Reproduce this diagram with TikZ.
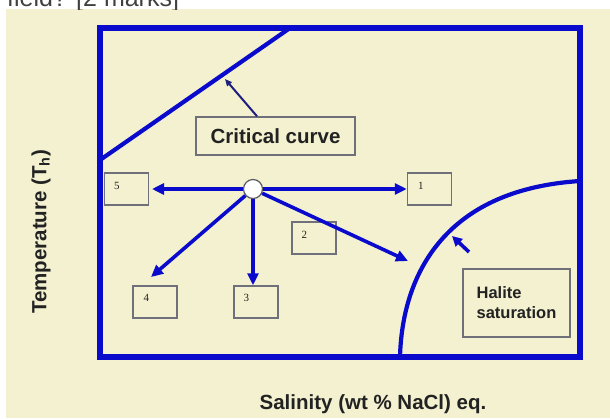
\documentclass[tikz,border=0pt]{standalone}
\usepackage{fontspec}
\setmainfont{Liberation Sans}
\newfontfamily\numfont{Liberation Serif}
\usetikzlibrary{arrows.meta,calc}
\definecolor{bgbeige}{RGB}{243,241,208}
\definecolor{mainblue}{RGB}{10,10,205}
\definecolor{navy}{RGB}{30,30,125}
\definecolor{boxgray}{RGB}{112,112,122}
\definecolor{txtdark}{RGB}{34,34,34}
\tikzset{
  frame/.style={draw=mainblue,line width=5.5pt},
  curveline/.style={draw=mainblue,line width=4.2pt},
  bluearrow/.style={draw=mainblue,line width=3.6pt,-{Triangle[length=12pt,width=11pt]}},
  pointer/.style={draw=navy,line width=2pt,-{Triangle[length=7pt,width=6pt]}},
  numbox/.style={draw=boxgray,line width=1.5pt,minimum width=44pt,minimum height=32pt,inner sep=0pt},
  labbox/.style={draw=boxgray,line width=1.5pt,inner sep=0pt,text=txtdark,font=\bfseries},
  numtxt/.style={font=\numfont\fontsize{11}{13}\selectfont,text=txtdark,inner sep=0pt},
  axislab/.style={font=\bfseries\fontsize{20.5}{24}\selectfont,text=txtdark,inner sep=0pt},
  centre/.style={circle,draw=boxgray!80!black,fill=white,line width=1.2pt,minimum size=19pt,inner sep=0pt}
}
\begin{document}
\begin{tikzpicture}[x=1pt,y=-1pt]
\useasboundingbox (0,0) rectangle (610,418);
\fill[white] (0,0) rectangle (610,418);
\fill[bgbeige] (6,9) rectangle (610,418);
\begin{scope}
\clip (0,0) rectangle (610,9);
\node[anchor=base west,inner sep=0pt,text=black!75,font=\fontsize{25}{30}\selectfont] (q) at (7,6) {field? [2 marks]};
\end{scope}
% frame
\node[frame,minimum width=480pt,minimum height=329pt,inner sep=0pt] (fr) at (340,192.5) {};
% critical curve
\coordinate (cc1) at (100,160);
\coordinate (cc2) at (290,28);
\draw[curveline] (cc1) -- (cc2);
\node[labbox,minimum width=159pt,minimum height=38pt,font=\bfseries\fontsize{20.5}{24}\selectfont] (crit) at (275.5,136) {Critical curve};
\coordinate (ccp) at (225,79);
\draw[pointer] (crit.north -| 257,0) -- (ccp);
% halite curve
\coordinate (h1) at (400,357);
\coordinate (h2) at (580,181);
\draw[curveline] (h1) .. controls (402,280) and (440,190) .. (h2);
\node[labbox,minimum width=107pt,minimum height=68pt,align=left,font=\bfseries\fontsize{16.5}{20}\selectfont] (hal) at (516.5,303) {Halite\\saturation};
\coordinate (hs) at (469,252);
\coordinate (ht) at (452,236);
\draw[bluearrow,-{Triangle[length=10pt,width=10pt]}] (hs) -- (ht);
% centre and boxes
\node[centre] (c) at (253,189) {};
\node[numbox] (b5) at (126.5,189) {};
\node[numbox] (b1) at (429.5,189) {};
\node[numbox] (b2) at (314,238) {};
\node[numbox] (b3) at (256,302) {};
\node[numbox] (b4) at (155,302) {};
\node[numtxt] (n5) at ([shift={(13,14)}]b5.north west) {5};
\node[numtxt] (n1) at ([shift={(14,14)}]b1.north west) {1};
\node[numtxt] (n2) at ([shift={(13,14)}]b2.north west) {2};
\node[numtxt] (n3) at ([shift={(13,13)}]b3.north west) {3};
\node[numtxt] (n4) at ([shift={(14,13)}]b4.north west) {4};
\coordinate (t5) at (152,189);
\coordinate (t2) at (408,261);
\coordinate (t4) at (151,277);
\draw[bluearrow] (c) -- (t5);
\draw[bluearrow] (c) -- (b1.west);
\draw[bluearrow] (c) -- (t2);
\draw[bluearrow] (c) -- (c |- b3.north);
\draw[bluearrow] (c) -- (t4);
% axis labels
\node[axislab] (xl) at (373,404) {Salinity (wt \% NaCl) eq.};
\node[axislab,rotate=90] (yl) at (41,232) {Temperature (T\textsubscript{h})};
\end{tikzpicture}
\end{document}
